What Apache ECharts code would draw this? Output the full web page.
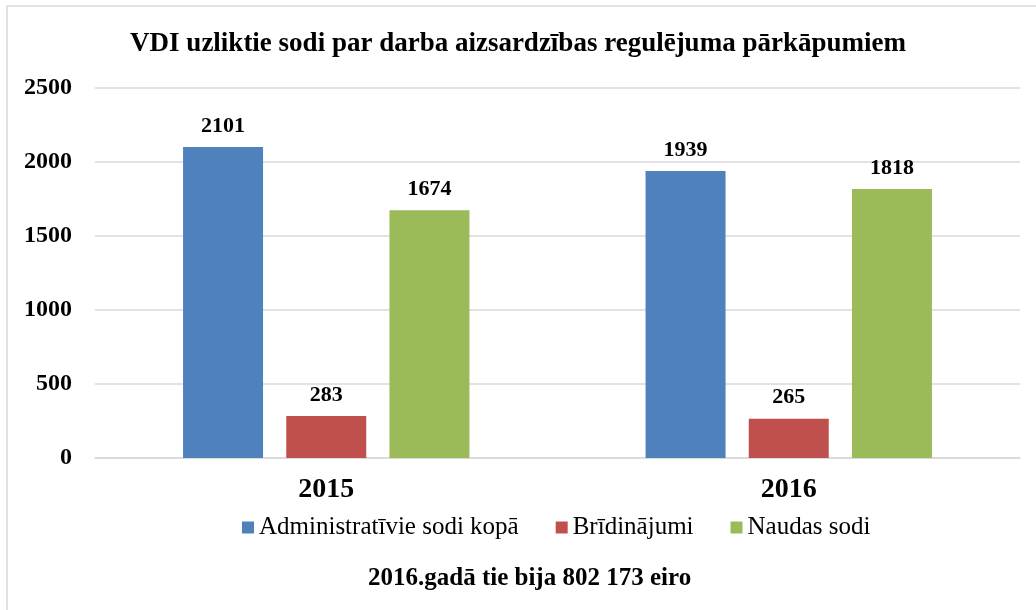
<!DOCTYPE html>
<html><head><meta charset="utf-8">
<script src="https://cdn.jsdelivr.net/npm/echarts@6/dist/echarts.min.js"></script>
<style>html,body{margin:0;padding:0;background:#fff}#c{width:1036px;height:610px}</style>
</head><body><div id="c"></div>
<script>
const categories = ['2015', '2016'];
const seriesNames = ['Administratīvie sodi kopā', 'Brīdinājumi', 'Naudas sodi'];
const adminTotal = [2101, 1939];
const warnings = [283, 265];
const fines = [1674, 1818];
const colors = ['#4F81BD', '#C0504D', '#9BBB59'];
const serif = 'Liberation Serif';
const chart = echarts.init(document.getElementById('c'));
const mk = (name, data, color) => ({
  name, type: 'bar', data, barWidth: 80, barGap: '29%', barCategoryGap: '38%',
  itemStyle: { color },
  label: { show: true, position: 'top', distance: 10, fontFamily: serif, fontWeight: 'bold', fontSize: 22, color: '#000' }
});
chart.setOption({
  animation: false,
  textStyle: { fontFamily: serif },
  graphic: [{ type: 'rect', shape: { x: 7, y: 6, width: 1040, height: 620 }, style: { fill: 'none', stroke: '#d9d9d9', lineWidth: 1.5 } }],
  title: [
    { text: 'VDI uzliktie sodi par darba aizsardzības regulējuma pārkāpumiem', left: 'center', top: 26,
      textStyle: { fontFamily: serif, fontWeight: 'bold', fontSize: 27, color: '#000' } },
    { text: '2016.gadā tie bija 802 173 eiro', left: 363, top: 561,
      textStyle: { fontFamily: serif, fontWeight: 'bold', fontSize: 25, color: '#000' } }
  ],
  legend: { data: seriesNames, top: 510, left: 237, itemWidth: 12, itemHeight: 12, itemGap: 37, icon: 'rect',
    textStyle: { fontFamily: serif, fontSize: 25, color: '#000' } },
  grid: { left: 95, right: 16, top: 88, bottom: 152 },
  xAxis: { type: 'category', data: categories,
    axisLine: { lineStyle: { color: '#d9d9d9', width: 1.5 } }, axisTick: { show: false },
    axisLabel: { fontFamily: serif, fontWeight: 'bold', fontSize: 28, color: '#000', margin: 18 } },
  yAxis: { type: 'value', min: 0, max: 2500, interval: 500,
    axisLine: { show: false }, axisTick: { show: false },
    splitLine: { lineStyle: { color: '#d9d9d9', width: 1.5 } },
    axisLabel: { fontFamily: serif, fontWeight: 'bold', fontSize: 24, color: '#000', margin: 23, formatter: v => String(v) } },
  series: [mk(seriesNames[0], adminTotal, colors[0]), mk(seriesNames[1], warnings, colors[1]), mk(seriesNames[2], fines, colors[2])]
});
</script></body></html>
